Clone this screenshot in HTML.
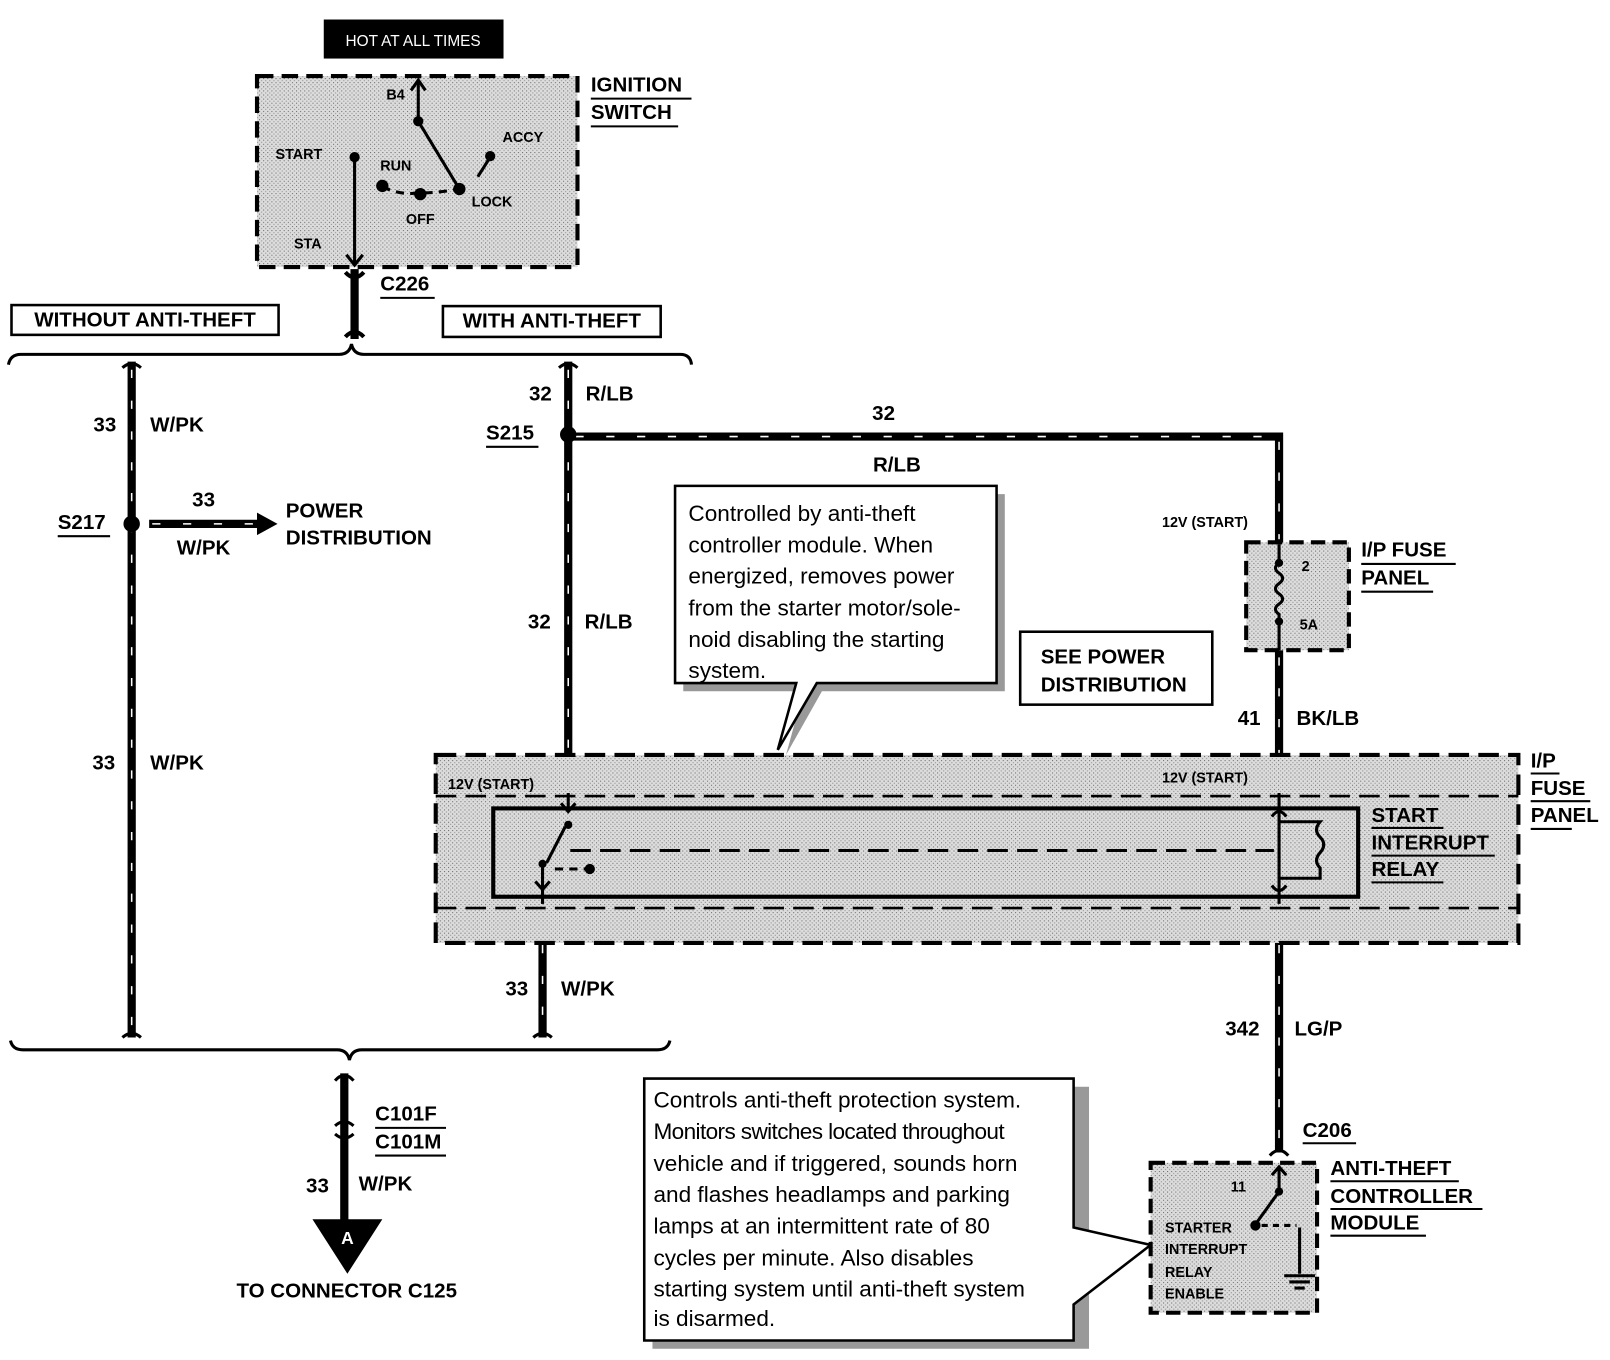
<!DOCTYPE html>
<html><head><meta charset="utf-8"><style>
html,body{margin:0;padding:0;background:#fff;}
svg{display:block;}
text{font-family:"Liberation Sans",sans-serif;fill:#000;}
.b{font-weight:bold;font-size:20px;}
.s{font-weight:bold;font-size:14px;}
.n{font-size:22px;}
</style></head><body>
<svg width="1610" height="1360" viewBox="0 0 1567 1324" xmlns="http://www.w3.org/2000/svg">
<defs>
<pattern id="st" width="4" height="4" patternUnits="userSpaceOnUse">
<rect width="4" height="4" fill="#dcdcdc"/><rect width="1" height="1" fill="#666"/><rect x="2" y="2" width="1" height="1" fill="#888"/>
</pattern>
</defs>
<rect x="315" y="19" width="175" height="38" fill="#000"/>
<text x="402" y="45" text-anchor="middle" style="fill:#fff;font-size:15px">HOT AT ALL TIMES</text>
<rect x="250" y="74" width="312" height="186" fill="url(#st)" stroke="#000" stroke-width="4" stroke-dasharray="16 8"/>
<text class="b" x="575" y="89">IGNITION</text><line x1="575" y1="96" x2="673" y2="96" stroke="#000" stroke-width="2"/>
<text class="b" x="575" y="116">SWITCH</text><line x1="575" y1="123" x2="660" y2="123" stroke="#000" stroke-width="2"/>
<g stroke="#000" stroke-width="3" fill="none">
<line x1="407" y1="78" x2="407" y2="118"/><polyline points="400,88 407,78 414,88"/>
<line x1="407" y1="118" x2="447" y2="184"/>
<line x1="345" y1="153" x2="345" y2="258"/><polyline points="337,248 345,258 353,248"/>
<line x1="477" y1="153" x2="465" y2="172"/>
<path d="M372 182 Q390 190 405 188 Q425 188 447 184" stroke-dasharray="8 6"/>
</g>
<g fill="#000"><circle cx="407" cy="118" r="5"/><circle cx="345" cy="153" r="5"/><circle cx="477" cy="152" r="5"/><circle cx="372" cy="181" r="6"/><circle cx="409" cy="189" r="6"/><circle cx="447" cy="184" r="6"/></g>
<text class="s" x="376" y="97">B4</text><text class="s" x="268" y="155">START</text><text class="s" x="370" y="166">RUN</text><text class="s" x="489" y="138">ACCY</text><text class="s" x="459" y="201">LOCK</text><text class="s" x="395" y="218">OFF</text><text class="s" x="286" y="242">STA</text>
<g stroke="#000" fill="none">
<line x1="345" y1="262" x2="345" y2="330" stroke-width="8"/>
<path d="M336 265 Q345 275 354 265" stroke-width="4"/><path d="M336 328 Q345 318 354 328" stroke-width="4"/>
</g>
<text class="b" x="370" y="283">C226</text><line x1="370" y1="290" x2="423" y2="290" stroke="#000" stroke-width="2"/>
<rect x="11" y="297" width="260" height="29" fill="#fff" stroke="#000" stroke-width="2.5"/>
<text class="b" x="141" y="318" text-anchor="middle">WITHOUT ANTI-THEFT</text>
<rect x="431" y="298" width="212" height="30" fill="#fff" stroke="#000" stroke-width="2.5"/>
<text class="b" x="537" y="319" text-anchor="middle">WITH ANTI-THEFT</text>
<path d="M8 355 Q10 345 20 345 L330 345 Q340 345 342 335 Q344 345 354 345 L662 345 Q672 345 673 355" stroke="#000" stroke-width="3" fill="none"/>
<g stroke="#000" stroke-width="8" fill="none">
<line x1="128" y1="352" x2="128" y2="1010"/>
<line x1="553" y1="352" x2="553" y2="772"/>
<polyline points="553,425 1245,425 1245,530"/>
<line x1="1245" y1="633" x2="1245" y2="772"/>
<line x1="528" y1="880" x2="528" y2="1010"/>
<line x1="1245" y1="880" x2="1245" y2="1122"/>
<line x1="145" y1="510" x2="255" y2="510"/>
<line x1="335" y1="1045" x2="335" y2="1190"/>
</g>
<g stroke="#fff" stroke-width="1.5" fill="none" stroke-dasharray="8 22">
<line x1="128" y1="360" x2="128" y2="1005"/>
<line x1="553" y1="360" x2="553" y2="765"/>
<polyline points="560,425 1245,425 1245,525"/>
<line x1="1245" y1="640" x2="1245" y2="770"/>
<line x1="528" y1="890" x2="528" y2="1005"/>
<line x1="1245" y1="890" x2="1245" y2="1115"/>
<line x1="148" y1="510" x2="250" y2="510"/>
</g>
<polygon points="250,499 270,510 250,521" fill="#000"/>
<g stroke="#000" stroke-width="3" fill="none">
<path d="M119 358 Q128 350 137 358"/><path d="M119 1010 Q128 1002 137 1010"/>
<path d="M544 358 Q553 350 562 358"/><path d="M519 1010 Q528 1002 537 1010"/>
</g>
<circle cx="128" cy="510" r="8" fill="#000"/><circle cx="553" cy="423" r="8" fill="#000"/>
<text class="b" x="113" y="420" text-anchor="end">33</text><text class="b" x="146" y="420">W/PK</text>
<text class="b" x="112" y="749" text-anchor="end">33</text><text class="b" x="146" y="749">W/PK</text>
<text class="b" x="56" y="515">S217</text><line x1="56" y1="522" x2="107" y2="522" stroke="#000" stroke-width="2"/>
<text class="b" x="198" y="493" text-anchor="middle">33</text><text class="b" x="198" y="540" text-anchor="middle">W/PK</text>
<text class="b" x="278" y="504">POWER</text><text class="b" x="278" y="530">DISTRIBUTION</text>
<text class="b" x="537" y="390" text-anchor="end">32</text><text class="b" x="570" y="390">R/LB</text>
<text class="b" x="473" y="428">S215</text><line x1="473" y1="435" x2="524" y2="435" stroke="#000" stroke-width="2"/>
<text class="b" x="860" y="409" text-anchor="middle">32</text><text class="b" x="873" y="459" text-anchor="middle">R/LB</text>
<text class="b" x="536" y="612" text-anchor="end">32</text><text class="b" x="569" y="612">R/LB</text>
<text class="s" x="1131" y="513">12V (START)</text>
<rect x="1213" y="528" width="100" height="105" fill="url(#st)" stroke="#000" stroke-width="4" stroke-dasharray="14 7"/>
<path d="M1245 530 L1245 548 Q1238 553 1245 558 Q1252 563 1245 568 Q1238 573 1245 578 Q1252 583 1245 588 Q1238 593 1245 598 L1245 633" stroke="#000" stroke-width="3" fill="none"/>
<circle cx="1245" cy="548" r="4"/><circle cx="1245" cy="605" r="4"/>
<text class="s" x="1267" y="556">2</text><text class="s" x="1265" y="613">5A</text>
<text class="b" x="1325" y="542">I/P FUSE</text><line x1="1325" y1="549" x2="1417" y2="549" stroke="#000" stroke-width="2"/>
<text class="b" x="1325" y="569">PANEL</text><line x1="1325" y1="576" x2="1395" y2="576" stroke="#000" stroke-width="2"/>
<text class="b" x="1227" y="706" text-anchor="end">41</text><text class="b" x="1262" y="706">BK/LB</text>
<polygon points="665,481 978,481 978,673 800,673 765,735 782,673 665,673" fill="#999"/>
<polygon points="657,473 970,473 970,665 795,665 757,730 775,665 657,665" fill="#fff" stroke="#000" stroke-width="2.5"/>
<text class="n" x="670" y="507">Controlled by anti-theft</text><text class="n" x="670" y="538">controller module. When</text><text class="n" x="670" y="568">energized, removes power</text><text class="n" x="670" y="599">from the starter motor/sole-</text><text class="n" x="670" y="630">noid disabling the starting</text><text class="n" x="670" y="660">system.</text>
<rect x="993" y="615" width="187" height="71" fill="#fff" stroke="#000" stroke-width="2.5"/>
<text class="b" x="1013" y="646">SEE POWER</text><text class="b" x="1013" y="673">DISTRIBUTION</text>
<rect x="424" y="735" width="1054" height="183" fill="url(#st)" stroke="#000" stroke-width="4" stroke-dasharray="20 9"/>
<rect x="480" y="787" width="842" height="86" fill="none" stroke="#000" stroke-width="4"/>
<line x1="424" y1="775" x2="1478" y2="775" stroke="#000" stroke-width="2.5" stroke-dasharray="20 9"/>
<line x1="424" y1="884" x2="1478" y2="884" stroke="#000" stroke-width="2.5" stroke-dasharray="20 9"/>
<text class="s" x="436" y="768">12V (START)</text><text class="s" x="1131" y="762">12V (START)</text>
<text class="b" x="1490" y="747">I/P</text><line x1="1490" y1="753" x2="1518" y2="753" stroke="#000" stroke-width="2"/>
<text class="b" x="1490" y="774">FUSE</text><line x1="1490" y1="780" x2="1548" y2="780" stroke="#000" stroke-width="2"/>
<text class="b" x="1490" y="800">PANEL</text><line x1="1490" y1="807" x2="1530" y2="807" stroke="#000" stroke-width="2"/>
<text class="b" x="1335" y="800">START</text><line x1="1335" y1="806" x2="1405" y2="806" stroke="#000" stroke-width="2"/>
<text class="b" x="1335" y="827">INTERRUPT</text><line x1="1335" y1="833" x2="1455" y2="833" stroke="#000" stroke-width="2"/>
<text class="b" x="1335" y="853">RELAY</text><line x1="1335" y1="859" x2="1405" y2="859" stroke="#000" stroke-width="2"/>
<g stroke="#000" stroke-width="3" fill="none">
<line x1="553" y1="772" x2="553" y2="790"/>
<polyline points="546,782 553,790 560,782"/>
<line x1="550" y1="805" x2="532" y2="840"/>
<line x1="528" y1="840" x2="528" y2="880"/>
<polyline points="521,858 528,866 535,858"/>
<line x1="540" y1="846" x2="575" y2="846" stroke-dasharray="8 6"/>
<line x1="555" y1="828" x2="1240" y2="828" stroke-dasharray="20 9"/>
<line x1="1245" y1="772" x2="1245" y2="880"/>
<path d="M1245 800 L1285 800 Q1278 808 1285 815 Q1292 822 1285 830 Q1278 838 1285 845 L1285 855 L1245 855"/>
<path d="M1238 795 Q1245 785 1252 795"/><path d="M1238 862 Q1245 872 1252 862"/>
</g>
<circle cx="553" cy="803" r="4"/><circle cx="528" cy="841" r="4"/><circle cx="574" cy="846" r="5"/>
<text class="b" x="514" y="969" text-anchor="end">33</text><text class="b" x="546" y="969">W/PK</text>
<text class="b" x="1226" y="1008" text-anchor="end">342</text><text class="b" x="1260" y="1008">LG/P</text>
<path d="M10 1013 Q12 1022 22 1022 L328 1022 Q338 1022 340 1032 Q342 1022 352 1022 L640 1022 Q650 1022 652 1013" stroke="#000" stroke-width="3" fill="none"/>
<g stroke="#000" stroke-width="3" fill="none"><path d="M326 1052 Q335 1042 344 1052"/><path d="M326 1096 Q335 1088 344 1096"/><path d="M326 1104 Q335 1112 344 1104"/></g>
<text class="b" x="365" y="1091">C101F</text><line x1="365" y1="1098" x2="434" y2="1098" stroke="#000" stroke-width="2"/>
<text class="b" x="365" y="1118">C101M</text><line x1="365" y1="1125" x2="434" y2="1125" stroke="#000" stroke-width="2"/>
<text class="b" x="320" y="1161" text-anchor="end">33</text><text class="b" x="349" y="1159">W/PK</text>
<polygon points="304,1187 372,1187 338,1240" fill="#000"/>
<text x="338" y="1211" text-anchor="middle" style="fill:#fff;font-weight:bold;font-size:17px">A</text>
<text class="b" x="230" y="1263">TO CONNECTOR C125</text>
<polygon points="635,1058 1060,1058 1060,1313 635,1313" fill="#999"/>
<polygon points="627,1050 1045,1050 1045,1195 1120,1212 1045,1270 1045,1305 627,1305" fill="#fff" stroke="#000" stroke-width="2.5"/>
<text class="n" x="636" y="1078">Controls anti-theft protection system.</text><text class="n" x="636" y="1109" letter-spacing="-0.6">Monitors switches located throughout</text><text class="n" x="636" y="1140">vehicle and if triggered, sounds horn</text><text class="n" x="636" y="1170">and flashes headlamps and parking</text><text class="n" x="636" y="1201">lamps at an intermittent rate of 80</text><text class="n" x="636" y="1232">cycles per minute.  Also disables</text><text class="n" x="636" y="1262">starting system until anti-theft system</text><text class="n" x="636" y="1291">is disarmed.</text>
<rect x="1120" y="1132" width="162" height="146" fill="url(#st)" stroke="#000" stroke-width="4" stroke-dasharray="14 7"/>
<g stroke="#000" stroke-width="3" fill="none">
<path d="M1236 1125 Q1245 1115 1254 1125"/>
<polyline points="1238,1144 1245,1136 1252,1144"/>
<line x1="1245" y1="1136" x2="1245" y2="1160"/>
<line x1="1245" y1="1160" x2="1222" y2="1192"/>
<line x1="1228" y1="1193" x2="1262" y2="1193" stroke-dasharray="6 5"/>
<line x1="1265" y1="1195" x2="1265" y2="1240"/>
<line x1="1250" y1="1242" x2="1280" y2="1242"/><line x1="1255" y1="1248" x2="1275" y2="1248"/><line x1="1260" y1="1254" x2="1270" y2="1254"/>
</g>
<circle cx="1245" cy="1160" r="4"/><circle cx="1222" cy="1193" r="5"/>
<text class="s" x="1198" y="1160">11</text>
<text class="s" x="1134" y="1200">STARTER</text><text class="s" x="1134" y="1221">INTERRUPT</text><text class="s" x="1134" y="1243">RELAY</text><text class="s" x="1134" y="1264">ENABLE</text>
<text class="b" x="1268" y="1107">C206</text><line x1="1268" y1="1113" x2="1320" y2="1113" stroke="#000" stroke-width="2"/>
<text class="b" x="1295" y="1144">ANTI-THEFT</text><line x1="1295" y1="1150" x2="1420" y2="1150" stroke="#000" stroke-width="2"/>
<text class="b" x="1295" y="1171">CONTROLLER</text><line x1="1295" y1="1177" x2="1443" y2="1177" stroke="#000" stroke-width="2"/>
<text class="b" x="1295" y="1197">MODULE</text><line x1="1295" y1="1203" x2="1388" y2="1203" stroke="#000" stroke-width="2"/>
</svg>
</body></html>
